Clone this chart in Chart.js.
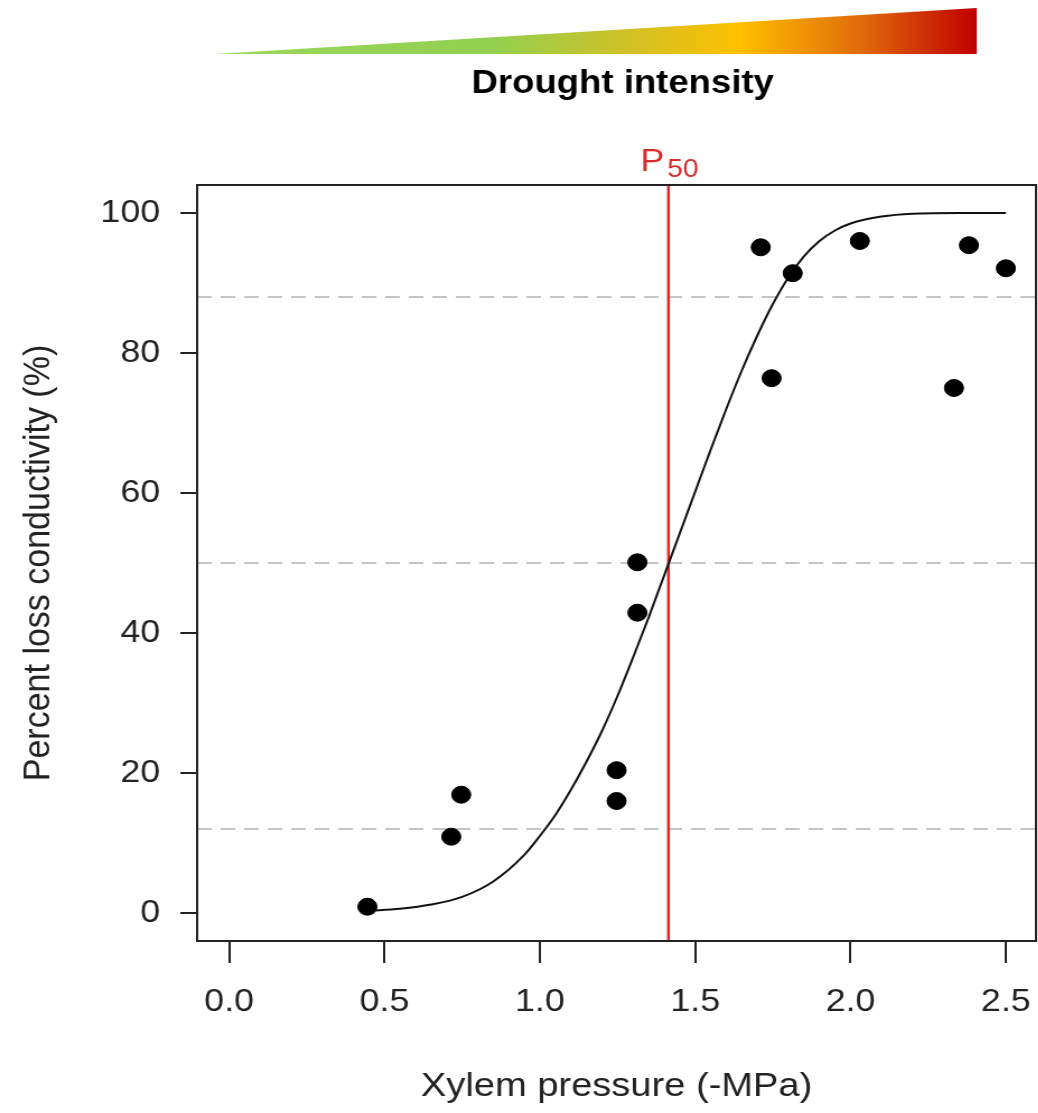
<!DOCTYPE html>
<html>
<head>
<meta charset="utf-8">
<script src="https://cdn.jsdelivr.net/npm/chart.js@4"></script>
<style>
  html, body { margin: 0; padding: 0; background: #ffffff; overflow: hidden; }
  /* the original figure is stretched a little horizontally */
  #wrap { width: 927px; height: 1113px; position: relative; transform: scaleX(1.12); transform-origin: 0 0; }
</style>
</head>
<body>
<div id="wrap"><canvas id="vulnChart"></canvas></div>
<script>
// measured points: xylem pressure (-MPa) vs percent loss conductivity
const pressure = [0.445, 0.715, 0.747, 1.247, 1.247, 1.314, 1.314, 1.711, 1.746, 1.814, 2.03, 2.333, 2.381, 2.5];
const plc      = [0.9, 10.9, 16.9, 20.4, 16.0, 50.1, 42.9, 95.1, 76.4, 91.4, 96.0, 75.0, 95.4, 92.1];

// fitted curve
const curveX = [0.45, 0.55, 0.65, 0.75, 0.85, 0.95, 1.00, 1.05, 1.10, 1.15, 1.20, 1.25, 1.30, 1.35, 1.40, 1.45,
                1.50, 1.55, 1.60, 1.65, 1.70, 1.75, 1.80, 1.85, 1.90, 1.95, 2.00, 2.10, 2.20, 2.35, 2.50];
const curveY = [0.3, 0.6, 1.2, 2.3, 4.5, 8.3, 11.0, 14.0, 17.6, 21.6, 26.0, 31.0, 36.5, 42.2, 48.2, 54.2,
                60.2, 66.2, 72.0, 77.5, 82.5, 87.0, 90.8, 93.8, 96.0, 97.5, 98.5, 99.5, 99.9, 100, 100];

const dashLevels = [12, 50, 88];
const p50 = 1.414;

const xTicks = [0, 0.5, 1.0, 1.5, 2.0, 2.5];
const yTicks = [0, 20, 40, 60, 80, 100];
const xRange = [-0.103, 2.597];
const yRange = [-4, 104];

const FONT = '"Liberation Sans", Arial, sans-serif';

/*------------------frame box + header (gradient, P50 label)------------------------*/
const decorPlugin = {
    id: 'decor',
    afterDraw(chart) {
        const ctx = chart.ctx;
        const area = chart.chartArea;
        const xs = chart.scales.x;

        ctx.save();
        // box around plot
        ctx.strokeStyle = '#222';
        ctx.lineWidth = 2;
        ctx.strokeRect(area.left, area.top, area.right - area.left, area.bottom - area.top);

        // drought intensity wedge
        const grad = ctx.createLinearGradient(192, 0, 872, 0);
        grad.addColorStop(0, '#9ad75c');
        grad.addColorStop(0.36, '#92d050');
        grad.addColorStop(0.55, '#d4c126');
        grad.addColorStop(0.69, '#ffc000');
        grad.addColorStop(0.85, '#e06a0c');
        grad.addColorStop(1, '#c00000');
        ctx.fillStyle = grad;
        ctx.beginPath();
        ctx.moveTo(192, 54);
        ctx.lineTo(872, 8);
        ctx.lineTo(872, 54);
        ctx.closePath();
        ctx.fill();

        ctx.fillStyle = '#000';
        ctx.font = 'bold 34px ' + FONT;
        ctx.textAlign = 'center';
        ctx.textBaseline = 'alphabetic';
        ctx.fillText('Drought intensity', 556, 93, 270);

        // P50 label
        const px = xs.getPixelForValue(p50);
        ctx.fillStyle = '#d92b2b';
        ctx.textAlign = 'left';
        ctx.font = '32px ' + FONT;
        ctx.fillText('P', px - 25, 171);
        ctx.font = '25px ' + FONT;
        ctx.fillText('50', px - 1, 177);
        ctx.restore();
    }
};

const datasets = [];

dashLevels.forEach(level => {
    datasets.push({
        type: 'line',
        data: [{ x: xRange[0], y: level }, { x: xRange[1], y: level }],
        borderColor: '#c4c4c4',
        borderWidth: 2,
        borderDash: [13, 8],
        pointRadius: 0,
        order: 4
    });
});

datasets.push({
    type: 'line',
    data: [{ x: p50, y: yRange[0] }, { x: p50, y: yRange[1] }],
    borderColor: '#d92b2b',
    borderWidth: 2.5,
    pointRadius: 0,
    order: 3
});

datasets.push({
    type: 'line',
    data: curveX.map((x, i) => ({ x: x, y: curveY[i] })),
    borderColor: '#111',
    borderWidth: 2,
    pointRadius: 0,
    cubicInterpolationMode: 'monotone',
    order: 2
});

datasets.push({
    type: 'scatter',
    data: pressure.map((x, i) => ({ x: x, y: plc[i] })),
    backgroundColor: '#000',
    borderColor: '#000',
    pointRadius: 8.5,
    order: 1
});

const ctx = document.getElementById('vulnChart').getContext('2d');
new Chart(ctx, {
    type: 'scatter',
    data: { datasets: datasets },
    options: {
        responsive: true,
        maintainAspectRatio: false,
        animation: false,
        layout: { autoPadding: false, padding: { top: 185, right: 2, left: 0, bottom: 0 } },
        plugins: {
            legend: { display: false },
            tooltip: { enabled: false }
        },
        scales: {
            x: {
                type: 'linear',
                min: xRange[0],
                max: xRange[1],
                afterBuildTicks: scale => { scale.ticks = xTicks.map(v => ({ value: v })); },
                afterFit: scale => {
                    scale.height = 1113 - 941;
                    scale.paddingLeft = 0;
                    scale.paddingRight = 0;
                },
                border: { display: false },
                grid: { display: true, drawOnChartArea: false, drawTicks: true, tickLength: 22, color: '#222', lineWidth: 2 },
                ticks: {
                    padding: 20,
                    color: '#222',
                    font: { family: FONT, size: 32 },
                    callback: v => Number(v).toFixed(1)
                },
                title: {
                    display: true,
                    text: 'Xylem pressure (-MPa)',
                    color: '#222',
                    font: { family: FONT, size: 34 },
                    padding: { top: 0, bottom: 6 }
                }
            },
            y: {
                type: 'linear',
                min: yRange[0],
                max: yRange[1],
                afterBuildTicks: scale => { scale.ticks = yTicks.map(v => ({ value: v })); },
                afterFit: scale => {
                    scale.width = 176;
                    scale.paddingTop = 0;
                    scale.paddingBottom = 0;
                },
                border: { display: false },
                grid: { display: true, drawOnChartArea: false, drawTicks: true, tickLength: 15, color: '#222', lineWidth: 2 },
                ticks: {
                    padding: 18,
                    color: '#222',
                    font: { family: FONT, size: 32 }
                },
                title: {
                    display: true,
                    text: 'Percent loss conductivity (%)',
                    color: '#222',
                    font: { family: FONT, size: 34 },
                    padding: { top: 14, bottom: 0 }
                }
            }
        }
    },
    plugins: [decorPlugin]
});
</script>
</body>
</html>
